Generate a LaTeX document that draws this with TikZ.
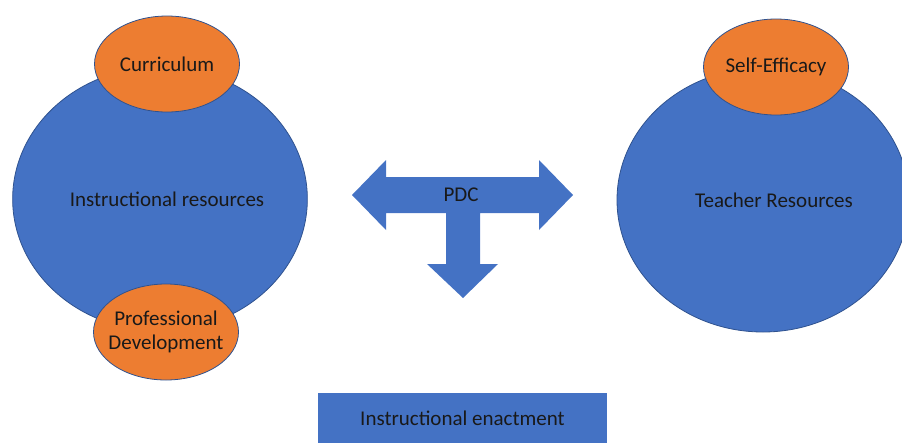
\documentclass[tikz,border=0pt]{standalone}
\usepackage{fontspec}
\setmainfont{Carlito}
\usetikzlibrary{shapes.geometric}
\definecolor{ppblau}{HTML}{4472C4}
\definecolor{pporange}{HTML}{ED7D31}
\definecolor{pprand}{HTML}{2F528F}
\begin{document}
\begin{tikzpicture}[
        x=1pt, y=-1pt,
        resource/.style={ellipse, draw=pprand, line width=0.8pt, fill=ppblau, inner sep=0pt, minimum width=292pt, minimum height=264pt, font=\fontsize{21}{24}\selectfont, text=black!90},
        facet/.style={ellipse, draw=pprand, line width=0.8pt, fill=pporange, inner sep=0pt, minimum width=145pt, minimum height=96pt, align=center, font=\fontsize{21}{24}\selectfont, text=black!90},
        enactbox/.style={rectangle, fill=ppblau, inner sep=0pt, minimum width=289pt, minimum height=50pt, font=\fontsize{21}{24}\selectfont, text=black!90}
    ]
        \useasboundingbox (0,0) rectangle (902,442);
        \node[resource] (instres) at (160,199) {\hspace*{14pt}Instructional resources};
        \node[resource] (teachres) at (763,200) {\hspace*{22pt}Teacher Resources};
        \node[facet] (curric) at (167,64) {Curriculum};
        \node[facet, inner xsep=-7pt] (profdev) at (166,332) {Professional\\Development};
        \node[facet] (selfeff) at (776,67) {Self-Efficacy};
        \fill[ppblau] (352,195) -- (386,160) -- (386,177) -- (539,177) -- (539,160) -- (573,195)
            -- (539,230) -- (539,213) -- (480,213) -- (480,264) -- (498,264) -- (463,298)
            -- (427,264) -- (446,264) -- (446,213) -- (386,213) -- (386,230) -- cycle;
        \node[font=\fontsize{21}{24}\selectfont, text=black!90] (pdc) at (461,195) {PDC};
        \node[enactbox] (enact) at (462.5,418) {Instructional enactment};
    \end{tikzpicture}
\end{document}
